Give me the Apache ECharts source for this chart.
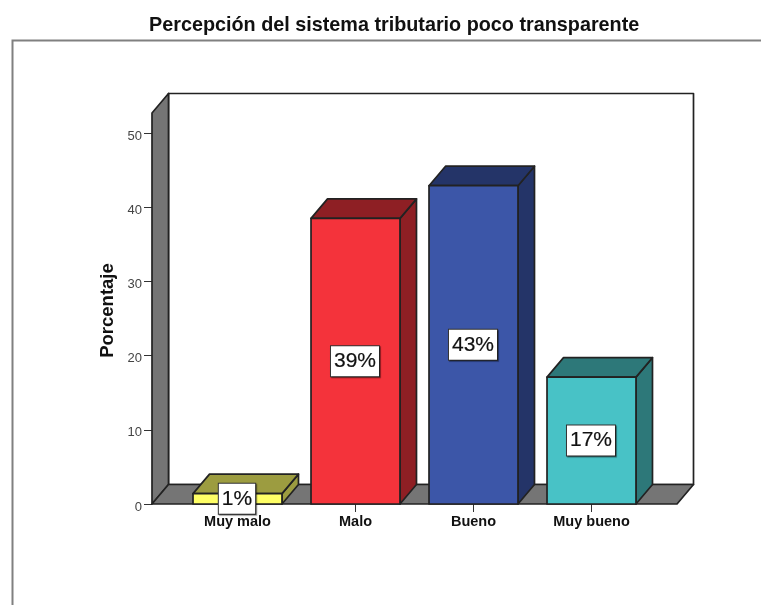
<!DOCTYPE html>
<html>
<head>
<meta charset="utf-8">
<title>Percepción del sistema tributario poco transparente</title>
<script src="https://cdn.jsdelivr.net/npm/echarts@6/dist/echarts.min.js"></script>
<style>
  html, body { margin: 0; padding: 0; background: #fff; }
  #myChart { width: 761px; height: 605px; }
</style>
</head>
<body>
<div id="myChart"></div>
<script>
// Values
var categories = ['Muy malo', 'Malo', 'Bueno', 'Muy bueno'];
var percentages = [1.4, 38.5, 42.9, 17.1];
var barLabels = ['1%', '39%', '43%', '17%'];
var yTicks = [0, 10, 20, 30, 40, 50];
var yMax = 52.7;

// Front and side/top colour of each bar
var frontColors = ['#FFFF66', '#F4333B', '#3C56A8', '#48C2C6'];
var shadeColors = ['#9C9C40', '#8E1F24', '#243468', '#2D7879'];

// 3D look
var depthX = 16.5;
var depthY = 19.5;
var wallOverhang = 26.5;
var edgeColor = '#222222';
var wallColor = '#757575';

function face(points, fill) {
  return {
    type: 'polygon',
    shape: { points: points },
    style: { fill: fill, stroke: edgeColor, lineWidth: 1.7, lineJoin: 'round' }
  };
}

// Back wall, left wall and floor of the box
function renderWalls(params, api) {
  var grid = params.coordSys;
  var bottom = api.coord([0, 0])[1];
  var top = api.coord([0, yMax])[1];
  var left = grid.x - wallOverhang;
  var right = grid.x + grid.width + wallOverhang;
  return {
    type: 'group',
    children: [
      face([[left + depthX, top - depthY], [right + depthX, top - depthY], [right + depthX, bottom - depthY], [left + depthX, bottom - depthY]], '#ffffff'),
      face([[left, top], [left + depthX, top - depthY], [left + depthX, bottom - depthY], [left, bottom]], wallColor),
      face([[left, bottom], [left + depthX, bottom - depthY], [right + depthX, bottom - depthY], [right, bottom]], wallColor)
    ]
  };
}

// One 3D bar with its boxed percentage label
function renderBar(params, api) {
  var i = params.dataIndex;
  var base = api.coord([i, 0]);
  var tip = api.coord([i, api.value(1)]);
  var half = api.size([1, 0])[0] * 0.377;
  var l = base[0] - half;
  var r = base[0] + half;
  return {
    type: 'group',
    children: [
      face([[r, tip[1]], [r + depthX, tip[1] - depthY], [r + depthX, base[1] - depthY], [r, base[1]]], shadeColors[i]),
      face([[l, tip[1]], [l + depthX, tip[1] - depthY], [r + depthX, tip[1] - depthY], [r, tip[1]]], shadeColors[i]),
      face([[l, tip[1]], [r, tip[1]], [r, base[1]], [l, base[1]]], frontColors[i]),
      {
        type: 'text',
        x: base[0] - 0.5,
        y: (tip[1] + base[1]) / 2,
        z2: 10,
        style: {
          text: barLabels[i],
          font: '21px "Liberation Sans", Arial, sans-serif',
          fill: '#111111',
          stroke: '#111111',
          lineWidth: 0.2,
          align: 'center',
          verticalAlign: 'middle',
          backgroundColor: '#ffffff',
          borderColor: '#333333',
          borderWidth: 1,
          padding: [5, 3, 4, 3],
          shadowColor: 'rgba(0,0,0,0.4)',
          shadowOffsetX: 1,
          shadowOffsetY: 1,
          shadowBlur: 1
        }
      }
    ]
  };
}

var myChart = echarts.init(document.getElementById('myChart'));

var option = {
  animation: false,
  backgroundColor: '#ffffff',
  textStyle: { fontFamily: '"Liberation Sans", Arial, sans-serif' },
  title: {
    text: 'Percepción del sistema tributario poco transparente',
    left: 149,
    top: 16,
    padding: 0,
    textStyle: { fontSize: 19.8, fontWeight: 'bold', color: '#111111' }
  },
  // Gray frame left and above the plot
  graphic: [{
    type: 'polyline',
    shape: { points: [[12.5, 605], [12.5, 40.5], [761, 40.5]] },
    style: { stroke: '#808080', lineWidth: 2, fill: 'none' },
    silent: true
  }],
  grid: { left: 178.5, right: 110.5, top: 113, bottom: 101 },
  xAxis: {
    type: 'category',
    data: categories,
    axisLine: { show: false },
    axisTick: { show: true, alignWithLabel: true, length: 8, lineStyle: { color: '#333333' } },
    axisLabel: { fontSize: 14.5, fontWeight: 'bold', color: '#111111', margin: 10 },
    z: 1
  },
  yAxis: {
    type: 'value',
    min: 0,
    max: yMax,
    offset: wallOverhang,
    name: 'Porcentaje',
    nameLocation: 'middle',
    nameGap: 35,
    nameMoveOverlap: false,
    nameTextStyle: { fontSize: 18.5, fontWeight: 'bold', color: '#111111', padding: [0, 4, 0, 0] },
    splitLine: { show: false },
    axisLine: { show: false },
    axisTick: { show: true, length: 8, lineStyle: { color: '#333333' }, customValues: yTicks },
    axisLabel: { fontSize: 13, color: '#444444', margin: 10, verticalAlign: 'top', lineHeight: 6, customValues: yTicks }
  },
  series: [
    { type: 'custom', renderItem: renderWalls, data: [[0, 0]], clip: false, z: 2, silent: true },
    {
      type: 'custom',
      renderItem: renderBar,
      encode: { x: 0, y: 1 },
      data: percentages.map(function (v, i) { return [i, v]; }),
      clip: false,
      z: 3,
      silent: true
    }
  ]
};

myChart.setOption(option);
</script>
</body>
</html>
